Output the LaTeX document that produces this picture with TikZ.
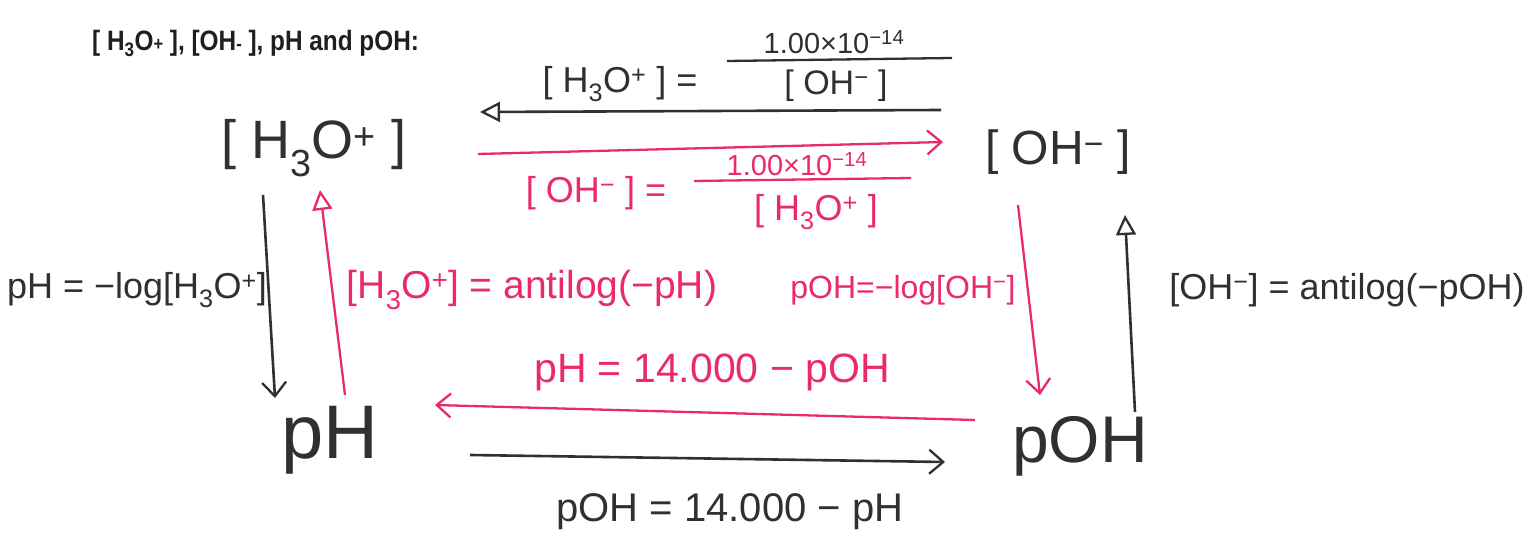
\documentclass[tikz,border=0pt]{standalone}
\usepackage{graphicx}
\usepackage{fontspec}
\setmainfont{Liberation Sans}
\usetikzlibrary{arrows.meta}
\definecolor{ink}{RGB}{48,48,48}
\definecolor{pinkink}{RGB}{234,42,108}
\newcommand{\fsz}[1]{\fontsize{#1}{#1}\selectfont}
\newcommand{\hyd}{H\textsubscript{3}O\textsuperscript{+}}
\newcommand{\hydrox}{OH\textsuperscript{−}}
\begin{document}
\begin{tikzpicture}[x=1pt,y=-1pt,
  every node/.style={inner sep=0pt},
  species/.style={text=ink},
  eqblack/.style={text=ink},
  eqpink/.style={text=pinkink},
  blkarrow/.style={draw=ink,line width=2.6pt},
  pnkarrow/.style={draw=pinkink,line width=2.3pt},
  barb/.style={-{Straight Barb[length=14pt,width=24pt,line width=2.3pt]}},
  opentip/.style={-{Triangle[open,length=20pt,width=20pt,line width=2.3pt]}},
  fracbar/.style={line width=2.3pt}
]
\useasboundingbox (0,0) rectangle (1537,540);

% title
\node[anchor=base west, font=\bfseries\fsz{28}, text=black!88] (title) at (92,51)
  {\scalebox{0.87}[1]{[ H\textsubscript{3}O{\fsz{19}+} ], [OH{\fsz{19}-} ], pH and pOH:}};

% species
\node[species, font=\fsz{54}] (h3o) at (314,148) {[ \hyd\ ]};
\node[species, font=\fsz{48}] (oh) at (1058,152) {[ \hydrox\ ]};
\node[species, font=\fsz{76}] (ph) at (330,440) {pH};
\node[species, font=\fsz{66}] (poh) at (1080,446) {pOH};

% top fraction (black)
\node[eqblack, font=\fsz{36}] (tlhs) at (620,84) {[ \hyd\ ] =};
\node[eqblack, font=\fsz{29}] (tnum) at (834,42) {1.00×10\textsuperscript{−14}};
\node[eqblack, font=\fsz{34}] (tden) at (836,86) {[ \hydrox\ ]};
\draw[fracbar, ink] (727,61) -- (952,58);

% pink fraction
\node[eqpink, font=\fsz{36}] (plhs) at (596,193) {[ \hydrox\ ] =};
\node[eqpink, font=\fsz{29}] (pnum) at (797,164) {1.00×10\textsuperscript{−14}};
\node[eqpink, font=\fsz{36}] (pden) at (816,212) {[ \hyd\ ]};
\draw[fracbar, pinkink] (694,181) -- (911,178);

% side labels
\node[eqblack, font=\fsz{36}] (lphlog) at (137,290) {pH = −log[\hyd]};
\node[eqpink, font=\fsz{39}] (lh3oanti) at (532,290) {[\hyd] = antilog(−pH)};
\node[eqpink, font=\fsz{32}] (lpohlog) at (903,290) {pOH=−log[\hydrox]};
\node[eqblack, font=\fsz{36}] (lohanti) at (1347,290) {[\hydrox] = antilog(−pOH)};
\node[eqpink, font=\fsz{41}] (lph14) at (712,372) {pH = 14.000 − pOH};
\node[eqblack, font=\fsz{40}] (lpoh14) at (730,512) {pOH = 14.000 − pH};

% arrow end points
\coordinate (a1s) at (941,110); \coordinate (a1e) at (480,112);
\coordinate (a2s) at (478,154); \coordinate (a2e) at (943,142);
\coordinate (a3s) at (263,195); \coordinate (a3e) at (275,398);
\coordinate (a4s) at (345,395); \coordinate (a4e) at (320,190);
\coordinate (a5s) at (1018,205); \coordinate (a5e) at (1040,395);
\coordinate (a6s) at (1135,412); \coordinate (a6e) at (1125,215);
\coordinate (a7s) at (975,420); \coordinate (a7e) at (435,405);
\coordinate (a8s) at (470,455); \coordinate (a8e) at (945,462);

% arrows
\draw[blkarrow, opentip] (a1s) -- (a1e);
\draw[pnkarrow, barb] (a2s) -- (a2e);
\draw[blkarrow, barb] (a3s) -- (a3e);
\draw[pnkarrow, opentip] (a4s) -- (a4e);
\draw[pnkarrow, barb] (a5s) -- (a5e);
\draw[blkarrow, opentip] (a6s) -- (a6e);
\draw[pnkarrow, barb] (a7s) -- (a7e);
\draw[blkarrow, barb] (a8s) -- (a8e);
\end{tikzpicture}
\end{document}
